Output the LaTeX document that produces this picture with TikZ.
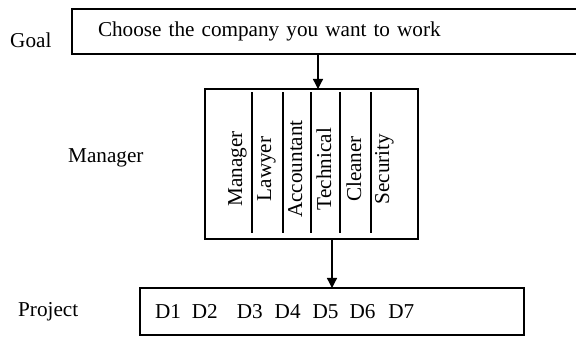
\documentclass[tikz,border=0pt]{standalone}
\usepackage{fontspec}
\setmainfont{Liberation Serif}
\usepackage{tikz}
\usetikzlibrary{arrows.meta,positioning,calc}

\begin{document}
\begin{tikzpicture}[x=1pt, y=1pt, node distance=35pt,
	every node/.style={font=\fontsize{21.2}{26}\selectfont},
	box/.style={draw, line width=1.3pt, rectangle, outer sep=0pt},
	lbl/.style={inner sep=0pt, anchor=base west},
	role/.style={inner sep=0pt, rotate=90, anchor=base},
	arr/.style={-{Triangle[length=10pt, width=10pt]}, line width=1.3pt}]
	
	\useasboundingbox (0,0) rectangle (576,337);
	
	% Goal
	\node[box, anchor=north west, minimum width=510pt, minimum height=45pt, text width=458pt, inner xsep=26pt, align=left] (goal) at (72,328) {Choose the company you want to work};
	\node[lbl] (goallbl) at (10,289) {Goal};
	
	% Manager
	\node[box, below=35pt of goal, xshift=-15.5pt, minimum width=213pt, minimum height=150pt, inner sep=0pt] (mgr) {};
	\node[lbl] (mgrlbl) at (68,174) {Manager};
	\foreach \x in {252,283,311,340,371}
		\draw[line width=1.1pt] (\x,104) -- (\x,245);
	\foreach \x/\t [count=\i] in {242/Manager, 271/Lawyer, 302/Accountant, 331/Technical, 361/Cleaner, 389/Security}
		\node[role] (role\i) at (\x,168) {\t};
	
	% Project
	\node[box, below=49pt of mgr, xshift=20.5pt, minimum width=384pt, minimum height=47pt, text width=354pt, inner xsep=15pt, align=left] (proj) {D1\hspace{11pt}D2\hspace{19pt}D3\hspace{12pt}D4\hspace{12pt}D5\hspace{11pt}D6\hspace{13pt}D7};
	\node[lbl] (projlbl) at (18,20) {Project};
	
	% Connections
	\draw[arr] ([xshift=6.5pt]mgr.north |- goal.south) -- ([xshift=6.5pt]mgr.north);
	\draw[arr] (mgr.south -| proj.north) -- (proj.north);
	
\end{tikzpicture}
\end{document}
